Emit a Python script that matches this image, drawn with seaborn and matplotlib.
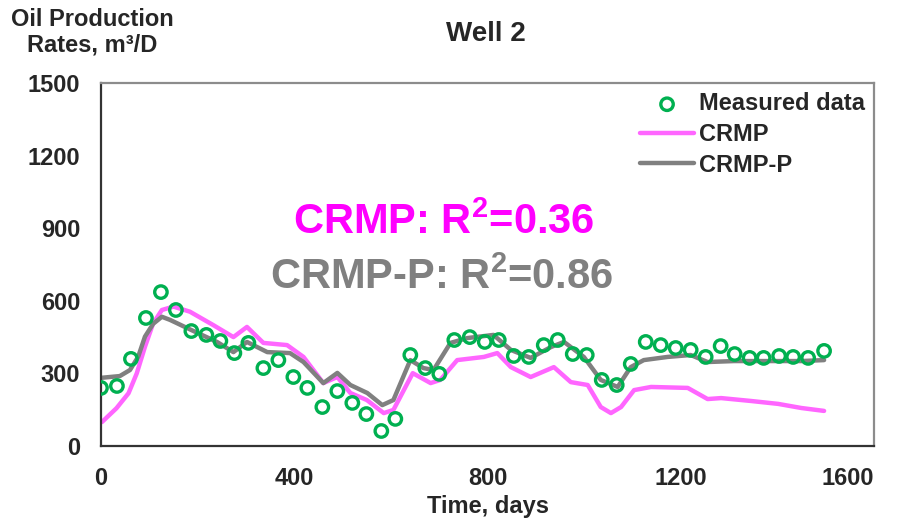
import matplotlib
matplotlib.use("Agg")
import matplotlib.pyplot as plt
import seaborn as sns

# measured oil rates (days, m3/D)
measured_days = [0, 33, 62, 93, 124, 155, 187, 218, 247, 276, 305, 336, 367, 398, 427,
                 458, 489, 520, 549, 580, 609, 640, 671, 700, 731, 763, 794, 823, 854, 885,
                 916, 945, 976, 1005, 1036, 1067, 1096, 1127, 1158, 1189, 1220, 1251, 1282,
                 1311, 1342, 1371, 1403, 1432, 1463, 1496]
measured_rate = [240, 248, 360, 529, 636, 562, 475, 459, 434, 384, 426, 322, 355, 285, 240,
                 161, 227, 178, 132, 62, 112, 376, 322, 298, 438, 450, 430, 438, 372, 368,
                 417, 438, 380, 376, 273, 252, 339, 430, 417, 405, 397, 368, 413,
                 380, 364, 364, 372, 368, 364, 393]

crmp_days = [2, 32, 57, 74, 91, 108, 126, 150, 184, 232, 274, 302, 336, 385, 419, 460,
             489, 516, 550, 585, 605, 645, 682, 702, 737, 792, 820, 848, 889, 937, 972,
             1007, 1034, 1055, 1076, 1103, 1138, 1214, 1255, 1283, 1345, 1401, 1449, 1496]
crmp_rate = [99, 156, 218, 300, 410, 507, 562, 576, 555, 500, 450, 492, 426, 417, 368, 260,
             285, 219, 190, 136, 149, 301, 260, 273, 355, 368, 384, 326, 285, 326, 264,
             252, 161, 136, 161, 231, 244, 240, 194, 198, 186, 174, 157, 145]

crmpp_days = [2, 39, 60, 77, 91, 108, 126, 143, 184, 240, 274, 302, 344, 391, 419, 460,
              489, 516, 551, 582, 605, 640, 667, 688, 723, 758, 812, 848, 889, 931, 958,
              999, 1034, 1069, 1096, 1123, 1172, 1220, 1255, 1310, 1380, 1449, 1496]
crmpp_rate = [282, 289, 314, 369, 452, 505, 534, 521, 482, 430, 388, 430, 388, 384, 347, 260,
              302, 252, 219, 169, 190, 355, 322, 314, 426, 446, 459, 397, 364, 409, 430,
              368, 273, 244, 326, 355, 368, 376, 347, 351, 351, 351, 355]

x_ticks = [0, 400, 800, 1200, 1600]
y_ticks = [0, 300, 600, 900, 1200, 1500]

GREEN = "#00B050"
PINK = "#FF66FF"
GREY = "#808080"

sns.set_theme(style="white")
plt.rcParams["font.family"] = ["Liberation Sans", "DejaVu Sans"]
plt.rcParams["font.weight"] = "bold"
plt.rcParams["mathtext.fontset"] = "custom"
plt.rcParams["mathtext.bf"] = "Liberation Sans:bold"
plt.rcParams["mathtext.rm"] = "Liberation Sans:bold"

fig = plt.figure(figsize=(9.04, 5.27), dpi=100)
ax = fig.add_axes([0.1117, 0.1537, 0.8555, 0.6888])

sns.scatterplot(x=measured_days, y=measured_rate, ax=ax, marker="o", s=80,
                facecolor="none", edgecolor=GREEN, linewidth=2.4,
                label="Measured data", zorder=3)
sns.lineplot(x=crmp_days, y=crmp_rate, ax=ax, color=PINK, linewidth=3.2,
             label="CRMP", sort=False, solid_joinstyle="round", zorder=2)
sns.lineplot(x=crmpp_days, y=crmpp_rate, ax=ax, color=GREY, linewidth=3.2,
             label="CRMP-P", sort=False, solid_joinstyle="round", zorder=2)

ax.set_xlim(0, 1600)
ax.set_ylim(0, 1500)
ax.set_xticks(x_ticks)
ax.set_yticks(y_ticks)
ax.tick_params(axis="both", length=0, labelsize=17, pad=15)
for lab in ax.get_xticklabels() + ax.get_yticklabels():
    lab.set_fontweight("bold")
ax.get_xticklabels()[-1].set_horizontalalignment("right")

for side in ["left", "bottom"]:
    ax.spines[side].set_color("#333333")
    ax.spines[side].set_linewidth(1.6)
for side in ["top", "right"]:
    ax.spines[side].set_color("#8c8c8c")
    ax.spines[side].set_linewidth(1.6)

ax.set_xlabel("Time, days", fontsize=17, fontweight="bold", labelpad=4)
ax.set_ylabel("")
fig.text(0.102, 0.985, "Oil Production\nRates, m³/D", ha="center", va="top",
         fontsize=17, fontweight="bold", linespacing=1.15)
fig.text(0.538, 0.935, "Well 2", ha="center", va="center", fontsize=20,
         fontweight="bold")

ax.text(0.443, 0.614, r"CRMP: R$^{\mathbf{2}}$=0.36", transform=ax.transAxes,
        ha="center", va="center", fontsize=30, fontweight="bold", color="#FF00FF")
ax.text(0.440, 0.463, r"CRMP-P: R$^{\mathbf{2}}$=0.86", transform=ax.transAxes,
        ha="center", va="center", fontsize=30, fontweight="bold", color=GREY)

leg = ax.legend(loc="upper right", frameon=False, fontsize=17, handlelength=2.3,
                handletextpad=0.2, labelspacing=0.32, borderaxespad=0.0,
                markerfirst=True)
for t in leg.get_texts():
    t.set_fontweight("bold")

fig.savefig("out.png", dpi=100)
